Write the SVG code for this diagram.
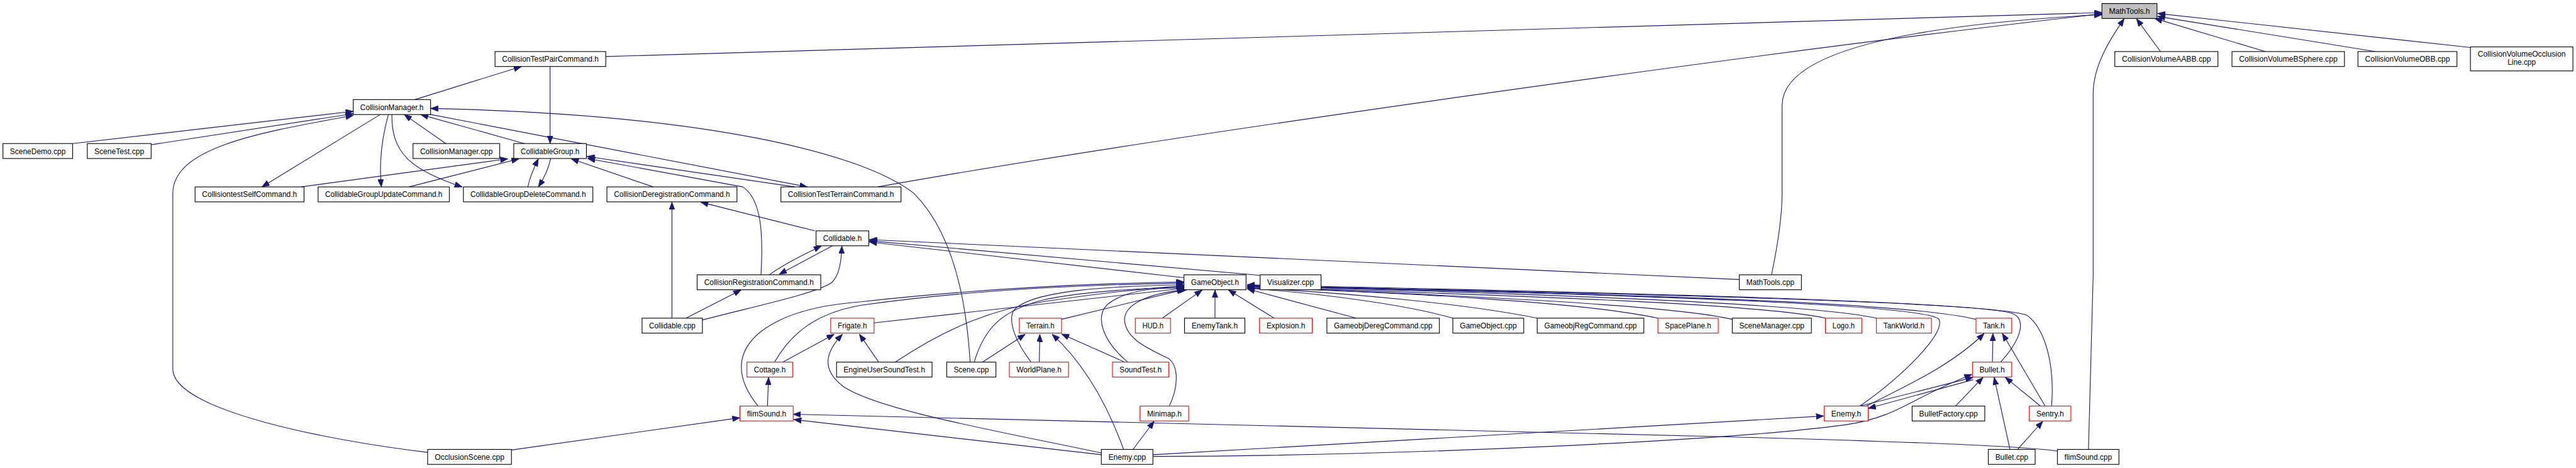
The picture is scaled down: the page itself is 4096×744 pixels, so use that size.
<svg xmlns="http://www.w3.org/2000/svg" width="4096" height="744" viewBox="0 0 4096 744">
<style>
.bg{fill:#fff}
.e{fill:none;stroke:#191970;stroke-width:1.2;marker-end:url(#ah)}
.n rect{fill:#fff;stroke:#000;stroke-width:1.2}
.r rect{stroke:#f00}
.g rect{fill:#bfbfbf}
text{font-family:"Liberation Sans",Arial,sans-serif;font-size:14.5px;text-anchor:middle;fill:#000}
</style>
<defs>
<marker id="ah" markerUnits="userSpaceOnUse" markerWidth="13" markerHeight="10" refX="13" refY="5" orient="auto" viewBox="0 0 13 10">
<path d="M0,0 L13,5 L0,10 z" fill="#191970" stroke="#191970" stroke-width="0.8"/>
</marker>
</defs>
<rect class="bg" x="0" y="0" width="4096" height="744"/>
<g transform="scale(0.9315)">
<g id="connectors">
<path class="e" d="M1034,96.5 L3588,21.5"/>
<path class="e" d="M1498,319 C2000,230 3000,90 3588,23.5"/>
<path class="e" d="M3024,469 C3030,440 3042,380 3042,330 L3042,180 C3042,80 3300,40 3588,25"/>
<path class="e" d="M3565,767 L3573,470 L3573,160 C3573,110 3605,62 3626,32"/>
<path class="e" d="M3688,88 L3647,32"/>
<path class="e" d="M3867,88 L3678,31.5"/>
<path class="e" d="M4055,88 L3683,28"/>
<path class="e" d="M4217,81 L3683,23"/>
<path class="e" d="M708,170 L890,113.5"/>
<path class="e" d="M939,113.5 L939,245"/>
<path class="e" d="M124,245 L603,190"/>
<path class="e" d="M258,247 L603,194"/>
<path class="e" d="M730,772 C560,752 295,700 295,630 L295,330 C295,250 450,225 603,197"/>
<path class="e" d="M649,195.5 L447,319"/>
<path class="e" d="M663,195.5 C652,235 647,280 651,319"/>
<path class="e" d="M669,195.5 C668,260 700,290 789,319"/>
<path class="e" d="M761,245 L690,195.5"/>
<path class="e" d="M895,245 L718,195.5"/>
<path class="e" d="M733,195 L1378,319"/>
<path class="e" d="M1656,618 C1650,520 1630,400 1560,330 C1470,260 1200,195 735,185"/>
<path class="e" d="M514,319 L867,271"/>
<path class="e" d="M698,319 L886,271"/>
<path class="e" d="M901,319 C905,300 912,285 919,271"/>
<path class="e" d="M940,270.5 C936,290 928,305 919,319"/>
<path class="e" d="M1115,319 L975,271"/>
<path class="e" d="M1357,319 L1002,267"/>
<path class="e" d="M1299,469 C1303,400 1300,340 1268,319 L1003,270.5"/>
<path class="e" d="M1147,543 L1147,345"/>
<path class="e" d="M1391,394 L1196,345"/>
<path class="e" d="M1313,469 C1340,450 1370,435 1402,420"/>
<path class="e" d="M1421,419.5 L1330,468"/>
<path class="e" d="M1199,546 C1300,520 1395,500 1420,482 C1432,470 1436,450 1437,420"/>
<path class="e" d="M1171,543 L1265,495"/>
<path class="e" d="M2021,474 L1484,413"/>
<path class="e" d="M2151,470 L1484,411"/>
<path class="e" d="M2969,477 L1484,409"/>
<path class="e" d="M1492,551 L2021,492"/>
<path class="e" d="M1322,618 C1350,570 1390,535 1470,521 C1650,495 1850,486 2021,483"/>
<path class="e" d="M1294,693 C1255,645 1255,600 1300,565 C1340,535 1400,520 1470,515 C1650,495 1850,484 2021,481"/>
<path class="e" d="M1528,618 C1600,570 1680,530 1780,515 C1880,500 1950,492 2021,488"/>
<path class="e" d="M1663,618 C1680,560 1710,530 1780,512 C1850,497 1950,492 2021,490"/>
<path class="e" d="M1760,618 C1735,585 1720,550 1730,530 C1760,495 1900,488 2021,486"/>
<path class="e" d="M1812,545 L2022,494"/>
<path class="e" d="M1925,618 C1880,580 1870,540 1890,520 C1920,495 1970,490 2023,492"/>
<path class="e" d="M1996,693 C2012,660 2012,625 1995,612 C1960,595 1925,580 1920,550 C1915,520 1960,500 2026,494.5"/>
<path class="e" d="M1984,543 L2052,495"/>
<path class="e" d="M2074,543 L2074,495"/>
<path class="e" d="M2175,543 L2097,495"/>
<path class="e" d="M2315,543 L2129,493"/>
<path class="e" d="M2480,543 C2400,520 2250,500 2129,492"/>
<path class="e" d="M2624,543 C2500,518 2300,500 2129,491"/>
<path class="e" d="M2830,543 C2700,515 2400,500 2129,490"/>
<path class="e" d="M2957,545 C2850,520 2500,505 2129,489"/>
<path class="e" d="M3116,543 C3000,518 2600,505 2129,489"/>
<path class="e" d="M3203,543 C3100,520 2700,503 2129,488"/>
<path class="e" d="M3373,545 C3250,515 2800,503 2129,488"/>
<path class="e" d="M3175,693 C3250,640 3320,570 3310,545 C3290,520 2800,503 2129,487"/>
<path class="e" d="M3415,618 C3450,580 3460,545 3435,535 C3380,515 2800,502 2129,487"/>
<path class="e" d="M3502,693 C3508,620 3490,560 3460,538 C3400,515 2800,500 2129,486"/>
<path class="e" d="M1677,618 L1750,570.5"/>
<path class="e" d="M1774,618 L1775,570.5"/>
<path class="e" d="M1918,767 C1890,690 1850,620 1796,570.5"/>
<path class="e" d="M1920,618 L1812,570"/>
<path class="e" d="M1336,618 L1424,570.5"/>
<path class="e" d="M1880,773 C1700,735 1500,700 1440,660 C1400,630 1410,600 1438,570.5"/>
<path class="e" d="M1500,618 L1467,570.5"/>
<path class="e" d="M1310,693 L1312,644"/>
<path class="e" d="M873,768 L1263,713"/>
<path class="e" d="M3513,770 C3450,760 3200,752 2930,745 L1354,707"/>
<path class="e" d="M1880,776 L1355,716"/>
<path class="e" d="M1934,767 L1970,719"/>
<path class="e" d="M1968,776 L3113,710"/>
<path class="e" d="M1968,779 C2400,778 2950,752 3150,725 C3240,712 3260,680 3366,639"/>
<path class="e" d="M3186,693 C3250,660 3330,625 3387,569"/>
<path class="e" d="M3175,693 L3368,644"/>
<path class="e" d="M3368,648 L3189,697"/>
<path class="e" d="M3338,693 L3385,644"/>
<path class="e" d="M3431,767 L3404,644"/>
<path class="e" d="M3483,693 L3423,644"/>
<path class="e" d="M3491,693 L3418,569"/>
<path class="e" d="M3401,618 L3402,569"/>
<path class="e" d="M3444,767 L3487,719"/>
</g>
<g id="nodes">
<g id="n_mathtools_h" class="n g"><rect x="3588" y="6" width="94" height="25.5"/><text x="3635" y="23.5" textLength="70" lengthAdjust="spacingAndGlyphs">MathTools.h</text></g>
<g id="n_ctpc" class="n"><rect x="845" y="88" width="189" height="25.5"/><text x="939.5" y="105.5" textLength="165" lengthAdjust="spacingAndGlyphs">CollisionTestPairCommand.h</text></g>
<g id="n_cvaabb" class="n"><rect x="3610" y="88" width="176" height="25.5"/><text x="3698" y="105.5" textLength="152" lengthAdjust="spacingAndGlyphs">CollisionVolumeAABB.cpp</text></g>
<g id="n_cvbsphere" class="n"><rect x="3810" y="88" width="192" height="25.5"/><text x="3906" y="105.5" textLength="168" lengthAdjust="spacingAndGlyphs">CollisionVolumeBSphere.cpp</text></g>
<g id="n_cvobb" class="n"><rect x="4025" y="88" width="169" height="25.5"/><text x="4109.5" y="105.5" textLength="145" lengthAdjust="spacingAndGlyphs">CollisionVolumeOBB.cpp</text></g>
<g id="n_cvocc" class="n"><rect x="4217" y="80" width="175" height="41"/><text x="4304.5" y="97" textLength="150" lengthAdjust="spacingAndGlyphs">CollisionVolumeOcclusion</text><text x="4304.5" y="111" textLength="48" lengthAdjust="spacingAndGlyphs">Line.cpp</text></g>
<g id="n_cm" class="n"><rect x="603" y="170" width="132" height="25.5"/><text x="669" y="187.5" textLength="108" lengthAdjust="spacingAndGlyphs">CollisionManager.h</text></g>
<g id="n_scenedemo" class="n"><rect x="5" y="245" width="119" height="25.5"/><text x="64.5" y="262.5" textLength="95" lengthAdjust="spacingAndGlyphs">SceneDemo.cpp</text></g>
<g id="n_scenetest" class="n"><rect x="149" y="245" width="109" height="25.5"/><text x="203.5" y="262.5" textLength="85" lengthAdjust="spacingAndGlyphs">SceneTest.cpp</text></g>
<g id="n_cmcpp" class="n"><rect x="705" y="245" width="148" height="25.5"/><text x="779" y="262.5" textLength="124" lengthAdjust="spacingAndGlyphs">CollisionManager.cpp</text></g>
<g id="n_cg" class="n"><rect x="877" y="245" width="124" height="25.5"/><text x="939" y="262.5" textLength="100" lengthAdjust="spacingAndGlyphs">CollidableGroup.h</text></g>
<g id="n_ctsc" class="n"><rect x="333" y="319" width="186" height="25.5"/><text x="426" y="336.5" textLength="162" lengthAdjust="spacingAndGlyphs">CollisiontestSelfCommand.h</text></g>
<g id="n_cguc" class="n"><rect x="543" y="319" width="224" height="25.5"/><text x="655" y="336.5" textLength="200" lengthAdjust="spacingAndGlyphs">CollidableGroupUpdateCommand.h</text></g>
<g id="n_cgdc" class="n"><rect x="791" y="319" width="221" height="25.5"/><text x="901.5" y="336.5" textLength="197" lengthAdjust="spacingAndGlyphs">CollidableGroupDeleteCommand.h</text></g>
<g id="n_cdc" class="n"><rect x="1036" y="319" width="222" height="25.5"/><text x="1147" y="336.5" textLength="198" lengthAdjust="spacingAndGlyphs">CollisionDeregistrationCommand.h</text></g>
<g id="n_cttc" class="n"><rect x="1333" y="319" width="205" height="25.5"/><text x="1435.5" y="336.5" textLength="181" lengthAdjust="spacingAndGlyphs">CollisionTestTerrainCommand.h</text></g>
<g id="n_collidable_h" class="n"><rect x="1393" y="394" width="90" height="25.5"/><text x="1438" y="411.5" textLength="66" lengthAdjust="spacingAndGlyphs">Collidable.h</text></g>
<g id="n_crc" class="n"><rect x="1190" y="469" width="211" height="25.5"/><text x="1295.5" y="486.5" textLength="187" lengthAdjust="spacingAndGlyphs">CollisionRegistrationCommand.h</text></g>
<g id="n_gameobject_h" class="n"><rect x="2021" y="469" width="106" height="25.5"/><text x="2074" y="486.5" textLength="82" lengthAdjust="spacingAndGlyphs">GameObject.h</text></g>
<g id="n_visualizer" class="n"><rect x="2151" y="469" width="104" height="25.5"/><text x="2203" y="486.5" textLength="80" lengthAdjust="spacingAndGlyphs">Visualizer.cpp</text></g>
<g id="n_mathtools_cpp" class="n"><rect x="2969" y="469" width="106" height="25.5"/><text x="3022" y="486.5" textLength="82" lengthAdjust="spacingAndGlyphs">MathTools.cpp</text></g>
<g id="n_collidable_cpp" class="n"><rect x="1096" y="543" width="103" height="25.5"/><text x="1147.5" y="560.5" textLength="79" lengthAdjust="spacingAndGlyphs">Collidable.cpp</text></g>
<g id="n_frigate" class="n r"><rect x="1418" y="543" width="74" height="25.5"/><text x="1455" y="560.5" textLength="50" lengthAdjust="spacingAndGlyphs">Frigate.h</text></g>
<g id="n_terrain" class="n r"><rect x="1740" y="543" width="72" height="25.5"/><text x="1776" y="560.5" textLength="48" lengthAdjust="spacingAndGlyphs">Terrain.h</text></g>
<g id="n_hud" class="n r"><rect x="1938" y="543" width="60" height="25.5"/><text x="1968" y="560.5" textLength="36" lengthAdjust="spacingAndGlyphs">HUD.h</text></g>
<g id="n_enemytank" class="n"><rect x="2022" y="543" width="103" height="25.5"/><text x="2073.5" y="560.5" textLength="79" lengthAdjust="spacingAndGlyphs">EnemyTank.h</text></g>
<g id="n_explosion" class="n r"><rect x="2150" y="543" width="90" height="25.5"/><text x="2195" y="560.5" textLength="66" lengthAdjust="spacingAndGlyphs">Explosion.h</text></g>
<g id="n_gdc" class="n"><rect x="2265" y="543" width="192" height="25.5"/><text x="2361" y="560.5" textLength="168" lengthAdjust="spacingAndGlyphs">GameobjDeregCommand.cpp</text></g>
<g id="n_gameobject_cpp" class="n"><rect x="2480" y="543" width="121" height="25.5"/><text x="2540.5" y="560.5" textLength="97" lengthAdjust="spacingAndGlyphs">GameObject.cpp</text></g>
<g id="n_grc" class="n"><rect x="2624" y="543" width="182" height="25.5"/><text x="2715" y="560.5" textLength="158" lengthAdjust="spacingAndGlyphs">GameobjRegCommand.cpp</text></g>
<g id="n_spaceplane" class="n r"><rect x="2830" y="543" width="103" height="25.5"/><text x="2881.5" y="560.5" textLength="79" lengthAdjust="spacingAndGlyphs">SpacePlane.h</text></g>
<g id="n_scenemanager" class="n"><rect x="2957" y="543" width="135" height="25.5"/><text x="3024.5" y="560.5" textLength="111" lengthAdjust="spacingAndGlyphs">SceneManager.cpp</text></g>
<g id="n_logo" class="n r"><rect x="3116" y="543" width="62" height="25.5"/><text x="3147" y="560.5" textLength="38" lengthAdjust="spacingAndGlyphs">Logo.h</text></g>
<g id="n_tankworld" class="n r"><rect x="3203" y="543" width="94" height="25.5"/><text x="3250" y="560.5" textLength="70" lengthAdjust="spacingAndGlyphs">TankWorld.h</text></g>
<g id="n_tank" class="n r"><rect x="3373" y="543" width="61" height="25.5"/><text x="3403.5" y="560.5" textLength="37" lengthAdjust="spacingAndGlyphs">Tank.h</text></g>
<g id="n_cottage" class="n r"><rect x="1275" y="618" width="78" height="25.5"/><text x="1314" y="635.5" textLength="54" lengthAdjust="spacingAndGlyphs">Cottage.h</text></g>
<g id="n_eust" class="n"><rect x="1428" y="618" width="163" height="25.5"/><text x="1509.5" y="635.5" textLength="139" lengthAdjust="spacingAndGlyphs">EngineUserSoundTest.h</text></g>
<g id="n_scene_cpp" class="n"><rect x="1616" y="618" width="84" height="25.5"/><text x="1658" y="635.5" textLength="60" lengthAdjust="spacingAndGlyphs">Scene.cpp</text></g>
<g id="n_worldplane" class="n r"><rect x="1723" y="618" width="101" height="25.5"/><text x="1773.5" y="635.5" textLength="77" lengthAdjust="spacingAndGlyphs">WorldPlane.h</text></g>
<g id="n_soundtest" class="n r"><rect x="1899" y="618" width="96" height="25.5"/><text x="1947" y="635.5" textLength="72" lengthAdjust="spacingAndGlyphs">SoundTest.h</text></g>
<g id="n_bullet_h" class="n r"><rect x="3367" y="618" width="67" height="25.5"/><text x="3400.5" y="635.5" textLength="43" lengthAdjust="spacingAndGlyphs">Bullet.h</text></g>
<g id="n_flimsound_h" class="n r"><rect x="1263" y="693" width="91" height="25.5"/><text x="1308.5" y="710.5" textLength="67" lengthAdjust="spacingAndGlyphs">flimSound.h</text></g>
<g id="n_minimap" class="n r"><rect x="1946" y="693" width="83" height="25.5"/><text x="1987.5" y="710.5" textLength="59" lengthAdjust="spacingAndGlyphs">Minimap.h</text></g>
<g id="n_enemy_h" class="n r"><rect x="3114" y="693" width="75" height="25.5"/><text x="3151.5" y="710.5" textLength="51" lengthAdjust="spacingAndGlyphs">Enemy.h</text></g>
<g id="n_bulletfactory" class="n"><rect x="3264" y="693" width="124" height="25.5"/><text x="3326" y="710.5" textLength="100" lengthAdjust="spacingAndGlyphs">BulletFactory.cpp</text></g>
<g id="n_sentry" class="n r"><rect x="3464" y="693" width="71" height="25.5"/><text x="3499.5" y="710.5" textLength="47" lengthAdjust="spacingAndGlyphs">Sentry.h</text></g>
<g id="n_occlusionscene" class="n"><rect x="730" y="767" width="143" height="25.5"/><text x="801.5" y="784.5" textLength="119" lengthAdjust="spacingAndGlyphs">OcclusionScene.cpp</text></g>
<g id="n_enemy_cpp" class="n"><rect x="1880" y="767" width="88" height="25.5"/><text x="1924" y="784.5" textLength="64" lengthAdjust="spacingAndGlyphs">Enemy.cpp</text></g>
<g id="n_bullet_cpp" class="n"><rect x="3394" y="767" width="80" height="25.5"/><text x="3434" y="784.5" textLength="56" lengthAdjust="spacingAndGlyphs">Bullet.cpp</text></g>
<g id="n_flimsound_cpp" class="n"><rect x="3512" y="767" width="105" height="25.5"/><text x="3564.5" y="784.5" textLength="81" lengthAdjust="spacingAndGlyphs">flimSound.cpp</text></g>
</g>
</g>
</svg>
